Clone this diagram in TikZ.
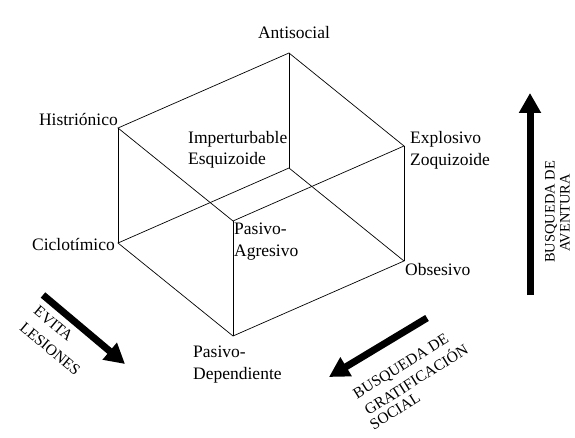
\documentclass[tikz,border=0pt]{standalone}
\usepackage{fontspec}
\setmainfont{Liberation Serif}
\usetikzlibrary{arrows.meta}
\begin{document}
\begin{tikzpicture}[x=1pt,y=-1pt,
  edge/.style={line width=0.7pt},
  lab/.style={font=\fontsize{17.5}{21}\selectfont, inner sep=0pt},
  axlab/.style={font=\fontsize{14.5}{17}\selectfont, inner sep=0pt},
  diaglab/.style={font=\fontsize{15.5}{18}\selectfont, inner sep=0pt, anchor=west},
  bigarrow/.style={line width=7pt, -{Triangle[width=21pt,length=20pt]}}]
\useasboundingbox (0,0) rectangle (575,438);
\fill[white] (0,0) rectangle (575,438);
% cube vertices
\coordinate (A) at (289,53);
\coordinate (H) at (118,128);
\coordinate (E) at (404,146);
\coordinate (F) at (233,221);
\coordinate (B) at (289,168);
\coordinate (C) at (118,243);
\coordinate (O) at (404,261);
\coordinate (D) at (233,336);
% edges
\draw[edge] (A) -- (H) -- (F) -- (E) -- cycle;
\draw[edge] (C) -- (B) -- (O) -- (D) -- cycle;
\draw[edge] (H) -- (C);
\draw[edge] (A) -- (B);
\draw[edge] (E) -- (O);
\draw[edge] (F) -- (D);
% vertex labels
\node[lab, anchor=base] (antisocial) at (294,39) {Antisocial};
\node[lab, anchor=base east] (histrionico) at (118,126) {Histriónico};
\node[lab, anchor=base east] (ciclotimico) at (115,251) {Ciclotímico};
\node[lab, anchor=base west] (imp1) at (188,144) {Imperturbable};
\node[lab, anchor=base west] (imp2) at (188,165) {Esquizoide};
\node[lab, anchor=base west] (exp1) at (410,144) {Explosivo};
\node[lab, anchor=base west] (exp2) at (410,166) {Zoquizoide};
\node[lab, anchor=base west] (pa1) at (234,235) {Pasivo-};
\node[lab, anchor=base west] (pa2) at (234,257) {Agresivo};
\node[lab, anchor=base west] (obsesivo) at (405,276) {Obsesivo};
\node[lab, anchor=base west] (pd1) at (193,357) {Pasivo-};
\node[lab, anchor=base west] (pd2) at (193,379) {Dependiente};
% axis arrows
\coordinate (av0) at (530,295);
\coordinate (av1) at (530,93);
\draw[bigarrow] (av0) -- (av1);
\coordinate (ev0) at (43,295);
\coordinate (ev1) at (125,364);
\draw[bigarrow] (ev0) -- (ev1);
\coordinate (gr0) at (427,318);
\coordinate (gr1) at (329,377);
\draw[bigarrow] (gr0) -- (gr1);
% axis labels
\node[axlab, anchor=base, rotate=90] (av2) at (554.5,212) {BUSQUEDA DE};
\node[axlab, anchor=base, rotate=90] (av3) at (569.5,213) {AVENTURA};
\node[diaglab, rotate=-40] (ev2) at (36,309) {EVITA};
\node[diaglab, rotate=-40] (ev3) at (22,325) {LESIONES};
\node[diaglab, rotate=32] (gr2) at (355,396) {BUSQUEDA DE};
\node[diaglab, rotate=32] (gr3) at (365,410) {GRATIFICACIÓN};
\node[diaglab, rotate=32] (gr4) at (371,426) {SOCIAL};
\end{tikzpicture}
\end{document}
